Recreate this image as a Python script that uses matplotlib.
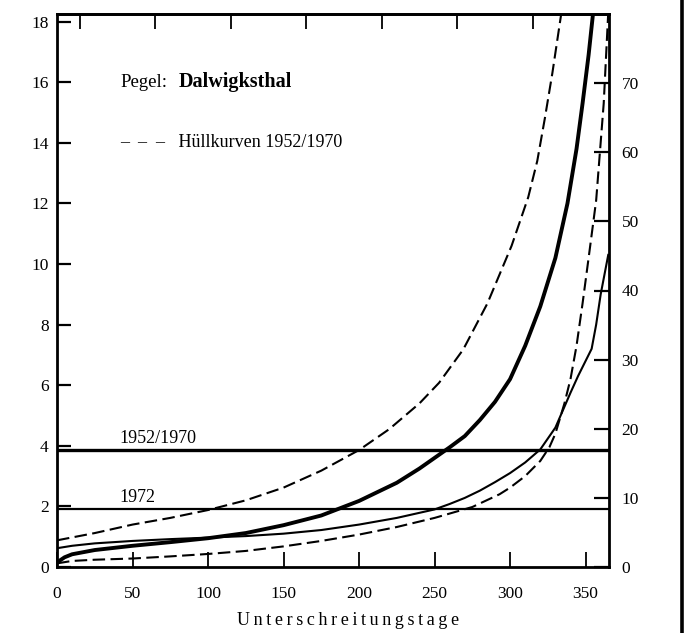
import matplotlib
matplotlib.use('Agg')
import matplotlib.pyplot as plt
from matplotlib.lines import Line2D

# ---------------- data ----------------
days_upper = [0, 25, 50, 75, 100, 125, 150, 175, 200, 220, 240, 253, 269, 285, 301, 312, 318, 323, 328, 334]
upper = [0.88, 1.12, 1.40, 1.62, 1.88, 2.20, 2.62, 3.18, 3.86, 4.55, 5.40, 6.08, 7.18, 8.70, 10.6, 12.2, 13.4, 14.8, 16.3, 18.3]

days_mean = [0, 5, 10, 25, 50, 75, 100, 125, 150, 175, 200, 225, 240, 250, 260, 270, 280, 290, 300, 310, 320, 330, 338, 344, 348, 352, 355]
mean = [0.15, 0.32, 0.42, 0.56, 0.70, 0.82, 0.95, 1.12, 1.38, 1.70, 2.18, 2.78, 3.25, 3.60, 3.95, 4.32, 4.85, 5.45, 6.20, 7.30, 8.60, 10.2, 12.0, 13.8, 15.3, 16.9, 18.3]

days_1972 = [0, 10, 25, 50, 75, 100, 125, 150, 175, 200, 225, 250, 260, 270, 280, 290, 300, 310, 320, 330, 340, 345, 350, 354, 357, 360, 365]
y1972 = [0.62, 0.70, 0.78, 0.86, 0.92, 0.97, 1.02, 1.10, 1.22, 1.40, 1.62, 1.90, 2.08, 2.28, 2.52, 2.80, 3.10, 3.45, 3.88, 4.60, 5.75, 6.30, 6.80, 7.20, 8.00, 9.00, 10.3]

days_lower = [0, 10, 25, 50, 75, 100, 125, 150, 175, 200, 225, 250, 275, 293, 300, 310, 320, 326, 330, 336, 340, 344, 348, 352, 357, 362, 365]
lower = [0.12, 0.20, 0.24, 0.28, 0.35, 0.43, 0.53, 0.68, 0.86, 1.07, 1.32, 1.62, 1.98, 2.40, 2.62, 3.00, 3.50, 3.95, 4.40, 5.40, 6.20, 7.30, 8.70, 10.2, 12.1, 15.3, 18.3]

level_labels = ['1952/1970', '1972']
level_values = [3.86, 1.90]

x_ticks = [0, 50, 100, 150, 200, 250, 300, 350]
top_ticks = [15, 65, 115, 165, 215, 265, 315]
y_left_ticks = [0, 2, 4, 6, 8, 10, 12, 14, 16, 18]
y_right_ticks = [0, 10, 20, 30, 40, 50, 60, 70]

station = 'Dalwigksthal'
x_label = 'Unterschreitungstage'

# ---------------- drawing ----------------
SERIF = ['Liberation Serif', 'DejaVu Serif']
plt.rcParams['font.family'] = SERIF
plt.rcParams['font.size'] = 12

fig = plt.figure(figsize=(6.89, 6.33), dpi=100)
ax = fig.add_axes([57/689, 1 - 567/633, 552/689, (567 - 14)/633])

ax.set_xlim(0, 365.5)
ax.set_ylim(0, 18.25)

dash = (6.0, 2.6)
ax.plot(days_upper, upper, color='black', lw=1.5, dashes=dash)
ax.plot(days_lower, lower, color='black', lw=1.5, dashes=dash)
ax.plot(days_mean, mean, color='black', lw=2.8, solid_joinstyle='round')
ax.plot(days_1972, y1972, color='black', lw=1.5, solid_joinstyle='round')

# horizontal reference levels
ax.axhline(level_values[0], color='black', lw=2.4)
ax.axhline(level_values[1], color='black', lw=1.6)
for lab, val in zip(level_labels, level_values):
    ax.annotate(lab, xy=(41, val), xytext=(0, 2.5), textcoords='offset points',
                ha='left', va='bottom', fontsize=13)

# title texts
t1 = ax.text(42, 15.84, 'Pegel:', ha='left', va='baseline', fontsize=13.5)
ax.annotate(station, xy=(1, 15.84), xycoords=(t1, 'data'), xytext=(8, 0),
            textcoords='offset points', ha='left', va='baseline',
            fontsize=14.5, fontweight='bold')
ax.text(42, 14.0, '–  –  –   Hüllkurven 1952/1970', ha='left', va='center', fontsize=13)

# spines
for s in ax.spines.values():
    s.set_linewidth(2.0)

# x axis
ax.set_xticks(x_ticks)
ax.set_xticklabels([str(v) for v in x_ticks])
ax.tick_params(axis='x', direction='in', length=11, width=1.3, pad=14, labelsize=12.5)
spaced = '\u2009'.join(list(x_label))
ax.set_xlabel(spaced, fontsize=13)
ax.xaxis.set_label_coords(0.527, -0.082)

top = ax.secondary_xaxis('top')
top.set_xticks(top_ticks)
top.set_xticklabels([])
top.tick_params(axis='x', direction='in', length=11, width=1.3)
top.spines['top'].set_linewidth(2.0)

# left axis
ax.set_yticks(y_left_ticks)
ax.set_yticklabels([str(v) for v in y_left_ticks])
ax.tick_params(axis='y', direction='in', length=10, width=1.6, pad=6, labelsize=12.5)

# right axis (secondary scale)
ax2 = ax.twinx()
ax2.set_ylim(0, 80)
ax2.set_yticks(y_right_ticks)
ax2.set_yticklabels([str(v) for v in y_right_ticks])
ax2.tick_params(axis='y', direction='in', length=11, width=1.6, pad=9, labelsize=12.5)
for s in ax2.spines.values():
    s.set_visible(False)

# scan edge bar at the right of the page
fig.add_artist(Line2D([681.5/689, 681.5/689], [0, 1], transform=fig.transFigure,
                      color='black', lw=2.6))

fig.savefig('out.png', dpi=100)
